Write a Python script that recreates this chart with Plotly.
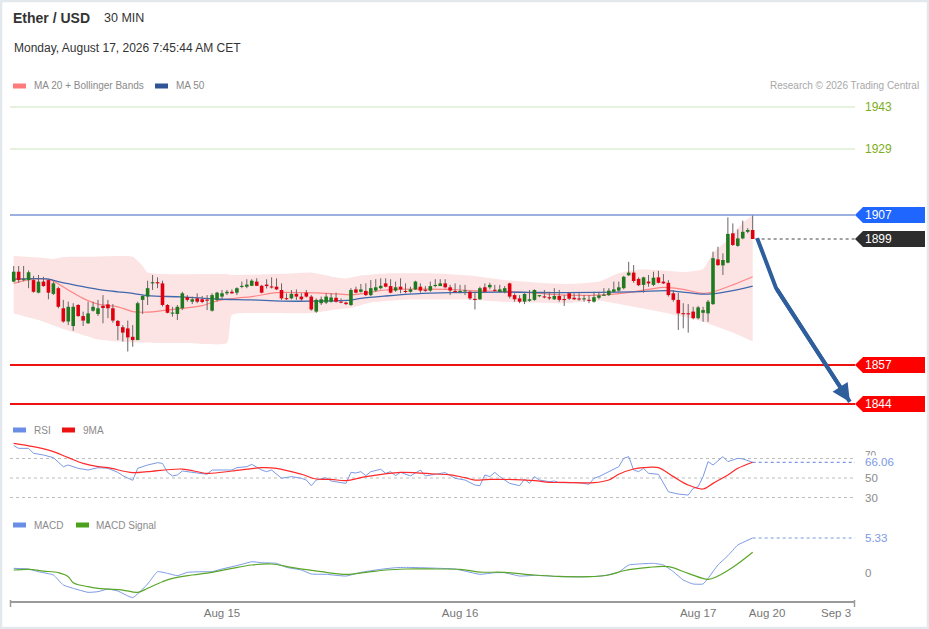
import plotly.graph_objects as go

# 30 min candles, index 0..149 (Aug 15 00:00 = 42, Aug 16 = 90, Aug 17 = 138)
opens = [1884.8, 1888.1, 1885.3, 1885.3, 1885.3, 1881.1, 1884.8, 1885.3, 1880.7, 1882.6,
         1875.9, 1871.5, 1870.0, 1877.0, 1873.3, 1870.9, 1875.1, 1874.0, 1876.7, 1877.2,
         1875.9, 1871.7, 1869.6, 1869.2, 1866.4, 1865.3, 1878.7, 1879.8, 1884.2, 1884.6,
         1884.2, 1877.0, 1874.2, 1874.0, 1875.9, 1879.6, 1878.1, 1879.2, 1878.9, 1878.7,
         1875.1, 1878.7, 1879.8, 1880.9, 1881.4, 1881.1, 1883.1, 1883.1, 1883.4, 1884.8,
         1883.4, 1883.8, 1883.1, 1883.1, 1882.0, 1879.2, 1879.2, 1880.7, 1879.8, 1881.1,
         1879.8, 1874.8, 1877.6, 1877.8, 1878.1, 1879.4, 1878.1, 1877.8, 1877.0, 1882.2,
         1881.4, 1881.7, 1880.3, 1881.8, 1882.6, 1884.2, 1883.3, 1881.8, 1883.1, 1881.6,
         1881.4, 1882.2, 1883.1, 1882.0, 1881.8, 1883.3, 1883.3, 1884.2, 1882.9, 1881.6,
         1881.4, 1881.6, 1881.4, 1879.0, 1878.9, 1882.9, 1882.9, 1882.0, 1881.4, 1881.4,
         1884.2, 1880.3, 1879.2, 1878.1, 1878.4, 1878.7, 1880.0, 1879.8, 1879.6, 1878.9,
         1880.0, 1878.9, 1880.9, 1879.4, 1879.1, 1878.9, 1878.7, 1878.1, 1879.4, 1880.2,
         1880.3, 1881.4, 1881.8, 1882.6, 1886.9, 1887.8, 1885.7, 1883.7, 1884.8, 1883.7,
         1886.2, 1884.8, 1884.4, 1880.9, 1878.7, 1874.2, 1874.2, 1874.8, 1872.6, 1874.4,
         1874.2, 1877.3, 1892.2, 1890.2, 1891.1, 1900.9, 1896.7, 1899.2, 1901.4, 1902.0]
highs = [1890.0, 1890.0, 1890.0, 1888.5, 1886.7, 1887.0, 1886.4, 1885.6, 1884.8, 1883.1,
         1878.7, 1878.1, 1877.6, 1877.3, 1874.8, 1878.1, 1878.1, 1878.7, 1880.3, 1878.7,
         1877.3, 1872.0, 1870.3, 1871.8, 1870.3, 1878.1, 1880.3, 1885.1, 1887.0, 1886.2,
         1885.1, 1877.3, 1876.4, 1877.0, 1881.4, 1880.3, 1879.8, 1880.9, 1880.0, 1880.3,
         1880.9, 1881.4, 1882.0, 1882.0, 1882.2, 1882.9, 1884.8, 1885.6, 1885.6, 1885.9,
         1883.7, 1885.6, 1886.2, 1885.9, 1884.2, 1880.9, 1882.0, 1882.2, 1880.9, 1882.0,
         1880.3, 1879.2, 1879.8, 1880.9, 1880.9, 1881.1, 1879.2, 1878.1, 1882.6, 1883.1,
         1884.0, 1884.2, 1885.3, 1885.6, 1885.9, 1885.9, 1885.6, 1884.8, 1885.9, 1884.2,
         1883.1, 1885.1, 1884.2, 1883.3, 1884.8, 1885.6, 1885.6, 1885.6, 1883.7, 1884.2,
         1883.7, 1883.7, 1881.8, 1881.4, 1883.1, 1884.2, 1884.4, 1883.7, 1883.7, 1883.3,
         1884.4, 1880.9, 1880.3, 1880.9, 1882.0, 1882.2, 1880.3, 1882.0, 1881.4, 1882.6,
         1882.0, 1880.3, 1881.1, 1880.9, 1880.9, 1880.3, 1880.3, 1881.4, 1881.4, 1882.6,
         1882.6, 1884.8, 1884.8, 1886.7, 1891.4, 1890.3, 1886.2, 1886.4, 1887.0, 1888.1,
         1888.4, 1887.3, 1885.3, 1882.0, 1881.1, 1877.6, 1877.3, 1876.4, 1876.7, 1876.4,
         1878.7, 1894.8, 1896.4, 1894.2, 1906.2, 1904.2, 1902.2, 1905.1, 1902.6, 1906.9]
lows = [1884.6, 1884.4, 1884.9, 1882.6, 1881.1, 1880.9, 1883.1, 1878.9, 1880.3, 1875.9,
        1871.1, 1870.3, 1868.4, 1873.1, 1870.0, 1870.7, 1874.8, 1873.3, 1870.9, 1872.6,
        1871.1, 1865.3, 1864.8, 1861.5, 1863.1, 1865.3, 1874.0, 1877.0, 1882.0, 1882.6,
        1876.5, 1874.2, 1873.1, 1872.0, 1875.3, 1878.1, 1877.3, 1877.6, 1877.6, 1875.3,
        1874.8, 1878.1, 1878.7, 1880.3, 1880.7, 1880.3, 1882.6, 1882.6, 1883.3, 1883.3,
        1880.9, 1882.5, 1882.5, 1882.0, 1878.7, 1878.7, 1878.9, 1878.7, 1878.4, 1879.5,
        1875.1, 1874.4, 1877.0, 1877.3, 1877.8, 1877.8, 1877.6, 1877.0, 1876.7, 1880.9,
        1881.1, 1880.0, 1880.0, 1881.4, 1882.2, 1882.9, 1880.9, 1881.4, 1880.9, 1880.9,
        1881.1, 1882.0, 1881.1, 1881.4, 1881.4, 1882.9, 1883.3, 1882.5, 1880.3, 1881.1,
        1880.9, 1880.3, 1878.7, 1875.5, 1878.7, 1881.1, 1882.2, 1881.4, 1881.1, 1880.9,
        1879.2, 1878.1, 1877.6, 1877.3, 1878.1, 1878.4, 1879.6, 1879.2, 1878.7, 1878.7,
        1878.1, 1876.7, 1878.7, 1878.7, 1878.4, 1878.1, 1877.6, 1877.8, 1878.9, 1880.0,
        1880.0, 1881.1, 1881.4, 1882.2, 1886.7, 1884.4, 1883.3, 1881.1, 1883.1, 1883.3,
        1884.2, 1884.0, 1879.8, 1878.1, 1868.7, 1869.2, 1867.8, 1872.2, 1872.2, 1871.4,
        1871.4, 1877.0, 1890.0, 1887.0, 1890.9, 1896.7, 1896.4, 1898.9, 1900.9, 1899.0]
closes = [1888.1, 1885.3, 1885.6, 1887.9, 1881.4, 1884.8, 1883.3, 1881.1, 1884.2, 1876.4,
          1871.5, 1876.4, 1876.4, 1873.3, 1871.8, 1874.2, 1876.4, 1875.9, 1876.0, 1875.9,
          1871.8, 1870.0, 1867.8, 1866.2, 1865.3, 1877.6, 1880.0, 1882.6, 1884.6, 1884.2,
          1877.0, 1874.4, 1874.4, 1876.4, 1880.9, 1878.7, 1878.9, 1878.1, 1878.0, 1878.5,
          1880.3, 1881.1, 1880.9, 1881.4, 1880.9, 1882.6, 1883.3, 1883.8, 1885.1, 1883.4,
          1881.1, 1883.3, 1882.9, 1882.2, 1879.2, 1879.0, 1880.7, 1879.8, 1878.9, 1879.8,
          1875.5, 1878.7, 1878.9, 1879.8, 1879.5, 1878.1, 1877.8, 1877.3, 1882.0, 1881.1,
          1882.2, 1880.3, 1882.6, 1882.9, 1883.4, 1883.1, 1881.1, 1882.9, 1882.2, 1881.4,
          1882.2, 1884.8, 1881.8, 1881.8, 1883.3, 1883.7, 1884.2, 1882.9, 1881.8, 1881.4,
          1881.6, 1881.8, 1879.2, 1878.7, 1882.6, 1881.4, 1883.7, 1881.8, 1882.2, 1882.6,
          1879.8, 1878.9, 1878.1, 1880.7, 1878.9, 1882.0, 1880.2, 1879.6, 1879.2, 1880.0,
          1878.7, 1878.7, 1879.1, 1878.9, 1878.9, 1879.2, 1878.4, 1879.6, 1880.2, 1880.3,
          1881.8, 1882.2, 1882.9, 1886.4, 1887.8, 1885.0, 1883.6, 1886.2, 1884.2, 1886.1,
          1884.4, 1884.2, 1880.3, 1878.7, 1874.2, 1874.0, 1873.9, 1872.6, 1876.2, 1875.3,
          1878.1, 1892.6, 1890.3, 1892.0, 1900.7, 1897.0, 1899.2, 1901.4, 1902.0, 1899.0]

# moving averages and bands (candle index, value)
ma20_idx = [0, 4, 7, 11, 14, 17, 21, 24, 27, 30, 34, 38, 41, 45, 48, 53, 58, 64, 68, 70,
            75, 81, 88, 92, 100, 105, 111, 118, 125, 131, 135, 139, 141, 145, 149]
ma20_val = [1884.2, 1885.6, 1885.6, 1882.0, 1879.2, 1877.3, 1876.4, 1874.8, 1874.6, 1875.1,
            1875.9, 1876.8, 1878.4, 1879.3, 1879.8, 1881.1, 1881.1, 1880.8, 1880.4, 1880.7,
            1882.0, 1882.3, 1882.2, 1881.8, 1881.5, 1881.0, 1880.3, 1880.3, 1881.4, 1882.9,
            1882.2, 1880.9, 1881.4, 1883.7, 1886.4]
ma50_idx = [0, 7, 9, 14, 17, 21, 24, 27, 34, 41, 48, 54, 61, 68, 70, 75, 81, 88, 98, 104,
            111, 125, 132, 136, 140, 145, 149]
ma50_val = [1885.6, 1885.6, 1884.8, 1883.1, 1882.2, 1881.4, 1880.9, 1880.1, 1879.7, 1879.0,
            1878.7, 1878.3, 1878.3, 1878.6, 1879.2, 1880.0, 1880.7, 1881.1, 1881.3, 1881.2,
            1881.1, 1881.4, 1881.8, 1881.1, 1880.6, 1881.8, 1883.3]
bb_up_idx = [0, 5, 8, 10, 16, 24, 26, 27, 30, 43, 44, 50, 56, 60, 64, 67, 70, 75, 85, 92,
             98, 105, 112, 118, 122, 126, 131, 135, 139, 141, 144, 147, 149]
bb_up_val = [1893.3, 1892.8, 1892.3, 1893.0, 1893.1, 1893.1, 1890.0, 1887.8, 1887.3, 1887.3,
             1887.0, 1887.2, 1887.5, 1887.8, 1886.5, 1885.8, 1886.8, 1887.5, 1887.5, 1886.8,
             1885.5, 1884.5, 1884.0, 1884.8, 1887.6, 1888.8, 1888.5, 1888.0, 1889.0, 1894.3,
             1898.7, 1904.3, 1907.0]
bb_lo_idx = [0, 5, 10, 14, 17, 24, 35, 43, 44, 50, 60, 65, 68, 72, 80, 90, 98, 111, 118, 125,
             132, 138, 145, 149]
bb_lo_val = [1874.2, 1872.0, 1869.0, 1867.0, 1865.5, 1864.5, 1864.3, 1864.3, 1873.7, 1874.3,
             1874.3, 1875.5, 1876.0, 1877.8, 1878.8, 1878.8, 1878.1, 1877.6, 1878.4, 1876.4,
             1874.2, 1872.0, 1867.8, 1864.8]

rsi_idx = [0, 1, 3, 4, 6, 7, 8, 10, 11, 13,
           15, 17, 19, 21, 22, 24, 25, 27, 29, 30,
           31, 32, 33, 34, 36, 39, 40, 44, 45, 47,
           48, 50, 51, 52, 54, 56, 58, 59, 60, 61,
           63, 64, 67, 68, 69, 70, 71, 72, 74, 75,
           76, 77, 78, 80, 82, 83, 85, 87, 89, 91,
           93, 94, 95, 96, 97, 98, 100, 102, 103, 104,
           105, 106, 108, 109, 110, 113, 114, 116, 117, 118,
           120, 121, 122, 123, 124, 125, 126, 127, 128, 130,
           131, 132, 134, 136, 137, 138, 139, 140, 141, 143,
           144, 145, 146, 147, 149]
rsi_val = [83.2, 80.4, 80.4, 75.3, 73.6, 71.9, 70.9, 61.6, 63.3, 59.9,
           58.2, 60.6, 59.9, 55.8, 52.4, 47.6, 59.9, 63.3, 65.7, 65.0,
           55.8, 52.1, 53.1, 57.2, 55.8, 53.8, 58.2, 58.2, 60.6, 61.6,
           64.0, 58.2, 56.5, 58.2, 49.7, 51.4, 49.7, 47.9, 42.1, 47.9,
           50.3, 46.9, 44.5, 55.8, 55.1, 56.5, 52.4, 56.5, 58.9, 54.8,
           56.5, 52.4, 55.8, 52.1, 58.2, 52.1, 53.8, 55.5, 49.7, 47.9,
           42.8, 42.1, 53.1, 51.4, 55.8, 51.4, 44.5, 42.1, 48.9, 44.5,
           51.4, 47.9, 46.2, 46.9, 45.2, 45.5, 45.2, 43.5, 49.7, 51.4,
           56.5, 58.2, 61.6, 70.2, 71.9, 58.2, 56.5, 59.9, 54.8, 53.8,
           44.5, 35.9, 33.5, 32.5, 39.3, 41.0, 51.4, 66.8, 63.3, 71.9,
           66.8, 68.5, 70.2, 69.6, 66.06]
rsi_ma_idx = [0, 4, 8, 11, 14, 17, 19, 24, 27, 34,
              39, 44, 50, 53, 58, 61, 64, 67, 71, 78,
              85, 88, 91, 93, 96, 105, 108, 111, 117, 120,
              122, 125, 128, 130, 133, 136, 139, 141, 144, 146,
              149]
rsi_ma_val = [85.6, 82.1, 77.0, 70.9, 65.0, 61.6, 60.6, 55.5, 56.5, 59.2,
              54.8, 57.2, 60.6, 59.9, 53.8, 49.0, 48.6, 47.3, 51.4, 55.8,
              54.1, 53.1, 50.3, 47.9, 48.6, 47.3, 45.5, 45.5, 45.2, 47.9,
              53.8, 59.2, 60.9, 60.6, 51.4, 42.8, 38.7, 44.5, 53.1, 59.9,
              66.2]

macd_idx = [0, 3, 5, 8, 10, 12, 15, 17, 19, 21,
            24, 27, 29, 31, 33, 35, 38, 40, 42, 44,
            46, 48, 50, 53, 55, 58, 60, 63, 67, 70,
            74, 77, 79, 82, 86, 89, 91, 94, 97, 99,
            102, 105, 108, 110, 113, 116, 119, 122, 124, 126,
            129, 131, 133, 135, 137, 139, 140, 142, 144, 146,
            149]
macd_val = [0.71, 0.61, 0.20, -0.30, -1.83, -2.33, -2.94, -2.84, -2.44, -2.74,
            -3.75, -1.67, 0.20, -0.05, -0.41, 0.10, 0.20, 0.20, 0.61, 0.96,
            1.32, 1.72, 1.57, 1.47, 0.86, 0.46, -0.15, -0.20, -0.46, 0.10,
            0.56, 0.81, 0.86, 0.81, 0.71, 0.61, 0.30, -0.20, 0.05, 0.05,
            -0.46, -0.36, -0.46, -0.56, -0.56, -0.56, -0.41, 0.15, 1.22, 1.37,
            1.47, 1.22, 0.20, -1.07, -1.67, -1.67, -0.81, 1.22, 2.64, 4.26,
            5.33]
signal_idx = [0, 3, 6, 9, 11, 12, 15, 17, 19, 22,
              25, 27, 30, 32, 36, 40, 44, 48, 52, 56,
              62, 67, 71, 75, 79, 85, 90, 94, 99, 105,
              110, 116, 120, 123, 128, 132, 136, 140, 142, 145,
              149]
signal_val = [0.46, 0.56, 0.30, 0.05, -0.56, -1.47, -2.08, -2.33, -2.44, -2.59,
              -2.94, -2.33, -1.32, -0.81, -0.30, 0.10, 0.71, 1.22, 1.37, 0.86,
              0.20, -0.20, 0.10, 0.46, 0.61, 0.61, 0.56, 0.15, 0.10, -0.30,
              -0.51, -0.56, -0.30, 0.35, 0.86, 0.96, -0.05, -0.96, -0.46, 0.86,
              3.15]

# key levels and the projected path
resistance = [1943, 1929]
pivot = 1907
last_price = 1899
supports = [1857, 1844]
path_idx = [149.9, 153.7, 168.6]
path_val = [1899.3, 1882.7, 1844.7]

tick_vals = [42, 90, 138, 151.9, 165.8]
tick_text = ["Aug 15", "Aug 16", "Aug 17", "Aug 20", "Sep 3"]

rsi_last = "66.06"
macd_last = "5.33"

# page geometry (pixels)
W, H = 929, 629
ML, MR, MT, MB = 10, 74, 0, 28
PW, PH = W - ML - MR, H - MT - MB
PRICE_RANGE = [1840.33, 1947.0]
RSI_RANGE = [12.05, 88.97]
MACD_RANGE = [-4.26, 7.31]


def px(X):
    return (X - ML) / PW


def py(Y):
    return (H - MB - Y) / PH


def price_y(p):
    # pixel row of a price inside the main panel (95..415)
    return 95 + (PRICE_RANGE[1] - p) / (PRICE_RANGE[1] - PRICE_RANGE[0]) * 320


FONT = "Liberation Sans, Arial, sans-serif"
GREEN = "#1f7a1f"
RED = "#e00010"
BLUE_LINE = "#7b99e4"

fig = go.Figure()

# Bollinger band
fig.add_trace(go.Scatter(x=bb_lo_idx, y=bb_lo_val, mode="lines", line=dict(width=0, shape="spline", smoothing=0.5),
                         yaxis="y", hoverinfo="skip"))
fig.add_trace(go.Scatter(x=bb_up_idx, y=bb_up_val, mode="lines", line=dict(width=0, shape="spline", smoothing=0.5),
                         fill="tonexty", fillcolor="#fde4e4", yaxis="y", hoverinfo="skip"))
fig.add_trace(go.Scatter(x=ma20_idx, y=ma20_val, mode="lines",
                         line=dict(color="#ff8585", width=1.2, shape="spline"), yaxis="y"))
fig.add_trace(go.Scatter(x=ma50_idx, y=ma50_val, mode="lines",
                         line=dict(color="#4068ad", width=1.3, shape="spline"), yaxis="y"))

# candles: wicks, then bodies drawn as thick segments
wick_x, wick_y = [], []
up_x, up_y, dn_x, dn_y = [], [], [], []
for i in range(len(closes)):
    wick_x += [i, i, None]
    wick_y += [lows[i], highs[i], None]
    o, c = opens[i], closes[i]
    if abs(c - o) < 0.35:
        mid = (o + c) / 2
        lo_b, hi_b = mid - 0.18, mid + 0.18
    else:
        lo_b, hi_b = min(o, c), max(o, c)
    if c >= o:
        up_x += [i, i, None]
        up_y += [lo_b, hi_b, None]
    else:
        dn_x += [i, i, None]
        dn_y += [lo_b, hi_b, None]
fig.add_trace(go.Scatter(x=wick_x, y=wick_y, mode="lines", line=dict(color="#6a6464", width=1),
                         yaxis="y", hoverinfo="skip"))
fig.add_trace(go.Scatter(x=up_x, y=up_y, mode="lines", line=dict(color=GREEN, width=3.6),
                         yaxis="y", hoverinfo="skip"))
fig.add_trace(go.Scatter(x=dn_x, y=dn_y, mode="lines", line=dict(color=RED, width=3.6),
                         yaxis="y", hoverinfo="skip"))

# projected path
fig.add_trace(go.Scatter(x=path_idx, y=path_val, mode="lines",
                         line=dict(color="#2f5e9c", width=4), yaxis="y"))

# RSI panel
fig.add_trace(go.Scatter(x=rsi_idx, y=rsi_val, mode="lines",
                         line=dict(color=BLUE_LINE, width=1), yaxis="y2"))
fig.add_trace(go.Scatter(x=rsi_ma_idx, y=rsi_ma_val, mode="lines",
                         line=dict(color="#ff2a2a", width=1.2, shape="spline"), yaxis="y2"))

# MACD panel
fig.add_trace(go.Scatter(x=macd_idx, y=macd_val, mode="lines",
                         line=dict(color=BLUE_LINE, width=1, shape="spline", smoothing=0.4), yaxis="y3"))
fig.add_trace(go.Scatter(x=signal_idx, y=signal_val, mode="lines",
                         line=dict(color="#5aa629", width=1.2, shape="spline"), yaxis="y3"))

x_end = tick_vals[-1] + (855 - 836) / 4.96
x_start = -(13.7 - ML) / 4.96
last_i = len(closes) - 1

shapes = []
annotations = []


def hline(y, yref, color, width, dash="solid", x0=0, x1=1, xref="paper"):
    shapes.append(dict(type="line", xref=xref, yref=yref, x0=x0, x1=x1, y0=y, y1=y,
                       line=dict(color=color, width=width, dash=dash), layer="below"))


def text(X, Y, s, size=11, color="#8a8a8a", anchor="left", bold=False, bg=None):
    annotations.append(dict(xref="paper", yref="paper", x=px(X), y=py(Y), text=f"<b>{s}</b>" if bold else s,
                            showarrow=False, xanchor=anchor, yanchor="middle",
                            font=dict(family=FONT, size=size, color=color),
                            bgcolor=bg, borderpad=0))


def swatch(X0, X1, Y, color):
    shapes.append(dict(type="rect", xref="paper", yref="paper", x0=px(X0), x1=px(X1),
                       y0=py(Y + 2.5), y1=py(Y - 2.5), fillcolor=color, line=dict(width=0)))


def badge(price, s, color):
    Y = price_y(price)
    path = (f"M {px(855)},{py(Y)} L {px(863)},{py(Y - 8)} L {px(925)},{py(Y - 8)} "
            f"L {px(925)},{py(Y + 8)} L {px(863)},{py(Y + 8)} Z")
    shapes.append(dict(type="path", xref="paper", yref="paper", path=path,
                       fillcolor=color, line=dict(width=0)))
    text(864, Y, s, size=12, color="white")


# level lines
for lvl in resistance:
    hline(lvl, "y", "#cde3bd", 1.2)
    text(864, price_y(lvl), str(lvl), size=12, color="#7cad1a")
hline(pivot, "y", "#3a62c4", 1.2)
badge(pivot, str(pivot), "#1f66ff")
hline(last_price, "y", "#444444", 1, dash="dot", x0=last_i + 0.6, x1=x_end, xref="x")
badge(last_price, str(last_price), "#2d2d2d")
for lvl in supports:
    hline(lvl, "y", "#ee1111", 2)
    badge(lvl, str(lvl), "#ff0000")

# RSI guides
for lvl in [70, 50, 30]:
    hline(lvl, "y2", "#bdbdbd", 1, dash="dot")
hline(rsi_val[-1], "y2", BLUE_LINE, 1.2, dash="dot", x0=rsi_idx[-1], x1=x_end, xref="x")
hline(macd_val[-1], "y3", BLUE_LINE, 1.2, dash="dot", x0=macd_idx[-1], x1=x_end, xref="x")

# arrow head
annotations.append(dict(xref="x", yref="y", axref="x", ayref="y", x=path_idx[2], y=path_val[2],
                        ax=path_idx[1], ay=path_val[1], text="", showarrow=True,
                        arrowhead=2, arrowsize=0.9, arrowwidth=4, arrowcolor="#2f5e9c", standoff=0))

# header
text(12, 18, "Ether / USD", size=14, color="#333333", bold=True)
text(103, 18, "30 MIN", size=12.5, color="#333333")
text(13, 48, "Monday, August 17, 2026 7:45:44 AM CET", size=12, color="#333333")
swatch(13, 26, 86, "#ff7b7b")
text(33, 86, "MA 20 + Bollinger Bands", size=10)
swatch(155, 168, 86, "#2f5597")
text(175, 86, "MA 50", size=10)
text(920, 86, "Research © 2026 Trading Central", size=10, color="#a8a8a8", anchor="right")

swatch(13, 26, 430, "#6a8ee6")
text(33, 430, "RSI", size=10)
swatch(62, 75, 430, "#ee1111")
text(82, 430, "9MA", size=10)
swatch(13, 26, 525, "#6a8ee6")
text(33, 525, "MACD", size=10)
swatch(76, 89, 525, "#4ba11c")
text(95, 525, "MACD Signal", size=10)

# right-hand panel labels
text(864, 455, "70", size=10)
text(864, 462, rsi_last, size=11.5, color="#7b99e4", bg="white")
text(864, 478, "50", size=11.5)
text(864, 498, "30", size=11.5)
text(864, 538, macd_last, size=11.5, color="#7b99e4")
text(864, 573, "0", size=11.5)

# axis end ticks and outer frame
for X in [10.5, 854.5]:
    shapes.append(dict(type="line", xref="paper", yref="paper", x0=px(X), x1=px(X), y0=py(600), y1=py(607),
                       line=dict(color="#9a9a9a", width=1.5)))
shapes.append(dict(type="rect", xref="paper", yref="paper", x0=px(1), x1=px(928), y0=py(628), y1=py(1),
                   line=dict(color="#e2e8ec", width=2.5), fillcolor="rgba(0,0,0,0)"))

fig.update_layout(
    width=W, height=H,
    margin=dict(l=ML, r=MR, t=MT, b=MB),
    paper_bgcolor="white", plot_bgcolor="white",
    showlegend=False,
    font=dict(family=FONT),
    xaxis=dict(range=[x_start, x_end], anchor="y3", showgrid=False, zeroline=False,
               showline=True, linecolor="#9a9a9a", linewidth=2, ticks="",
               tickvals=tick_vals, ticktext=tick_text,
               tickfont=dict(family=FONT, size=11.5, color="#777777")),
    yaxis=dict(domain=[py(415), py(95)], range=PRICE_RANGE, visible=False),
    yaxis2=dict(domain=[py(515), py(440)], range=RSI_RANGE, visible=False),
    yaxis3=dict(domain=[py(601), py(525)], range=MACD_RANGE, visible=False),
    shapes=shapes,
    annotations=annotations,
)

fig.write_html("out.html", config={"displayModeBar": False},
               post_script="document.body.style.margin='0';")
